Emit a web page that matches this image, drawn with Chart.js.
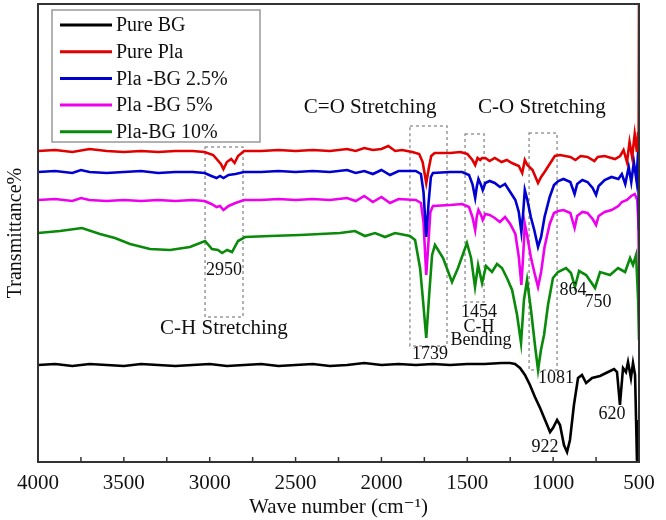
<!DOCTYPE html>
<html>
<head>
<meta charset="utf-8">
<script src="https://cdn.jsdelivr.net/npm/chart.js@4.4.1/dist/chart.umd.min.js"></script>
<style>
  html, body { margin: 0; padding: 0; background: #fff; }
</style>
</head>
<body>
<canvas id="ftir" width="666" height="520"></canvas>
<script>
// wave numbers (cm-1) and transmittance (arbitrary units, offset per curve)
const bgWave = [4000, 3900, 3800, 3700, 3600, 3500, 3400, 3300, 3200, 3100, 3000, 2900, 2800, 2700, 2600, 2500, 2400, 2300, 2200, 2100, 2000, 1900, 1800, 1700, 1600, 1500, 1400, 1300, 1251, 1222, 1193, 1164, 1135, 1106, 1076, 1047, 1018, 1001, 977, 960, 937, 919, 902, 879, 855, 832, 808, 773, 727, 680, 645, 628, 611, 593, 576, 564, 547, 535, 523, 517, 512, 500];
const bgT = [97, 98, 96, 98, 97, 96, 98, 97, 96, 97, 98, 96, 97, 98, 96, 97, 98, 96, 97, 99, 97, 98, 97, 98, 97, 98, 98, 99, 99, 98, 94, 87, 77, 65, 54, 42, 30, 34, 42, 37, 17, 10, 22, 57, 84, 87, 79, 84, 86, 90, 93, 90, 57, 94, 90, 100, 84, 99, 87, 42, 2, 0];

const plaWave = [4000, 3900, 3800, 3700, 3600, 3500, 3400, 3300, 3200, 3100, 3030, 2980, 2935, 2920, 2900, 2875, 2855, 2835, 2800, 2700, 2600, 2500, 2400, 2300, 2200, 2150, 2100, 2050, 2000, 1960, 1920, 1880, 1820, 1780, 1760, 1739, 1725, 1710, 1690, 1600, 1540, 1500, 1470, 1454, 1440, 1425, 1414, 1395, 1370, 1340, 1300, 1270, 1240, 1200, 1180, 1165, 1150, 1120, 1088, 1070, 1050, 1020, 990, 960, 900, 870, 840, 800, 760, 740, 700, 640, 610, 590, 570, 555, 540, 525, 512, 505, 502, 500];
const plaT = [311, 312, 310, 313, 311, 310, 311, 310, 311, 311, 310, 307, 298, 293, 300, 303, 299, 306, 311, 311, 312, 311, 312, 311, 313, 311, 314, 312, 313, 316, 311, 312, 310, 308, 300, 279, 293, 306, 309, 309, 310, 308, 302, 297, 304, 302, 304, 304, 301, 304, 300, 302, 299, 296, 289, 302, 297, 292, 279, 285, 290, 298, 306, 307, 305, 302, 306, 305, 301, 305, 306, 303, 306, 312, 300, 320, 305, 328, 310, 330, 320, 458];

const bg25Wave = [4000, 3900, 3800, 3750, 3700, 3600, 3500, 3400, 3300, 3200, 3100, 3030, 2990, 2960, 2940, 2920, 2890, 2850, 2800, 2700, 2600, 2500, 2400, 2300, 2200, 2150, 2100, 2050, 2000, 1950, 1900, 1800, 1770, 1755, 1739, 1725, 1712, 1700, 1600, 1530, 1490, 1470, 1454, 1445, 1435, 1420, 1410, 1395, 1370, 1340, 1310, 1280, 1250, 1220, 1200, 1185, 1175, 1165, 1150, 1130, 1110, 1088, 1070, 1050, 1020, 995, 970, 940, 900, 875, 860, 830, 800, 770, 750, 735, 700, 660, 620, 600, 580, 560, 545, 530, 515, 505, 502, 500];
const bg25T = [290, 291, 289, 292, 290, 289, 290, 291, 289, 290, 290, 289, 286, 284, 286, 284, 287, 288, 290, 290, 291, 290, 291, 290, 292, 289, 291, 288, 292, 287, 291, 291, 288, 270, 225, 260, 285, 289, 290, 290, 287, 278, 264, 275, 283, 277, 272, 279, 281, 279, 275, 278, 270, 262, 250, 230, 248, 272, 262, 245, 232, 215, 225, 245, 265, 277, 281, 283, 280, 268, 278, 282, 280, 274, 267, 276, 282, 285, 283, 288, 278, 295, 280, 300, 282, 310, 260, 232];

const bg5Wave = [4000, 3900, 3800, 3750, 3700, 3600, 3500, 3400, 3300, 3200, 3100, 3030, 2990, 2960, 2940, 2920, 2890, 2850, 2800, 2700, 2600, 2500, 2400, 2300, 2200, 2150, 2100, 2050, 2000, 1950, 1900, 1800, 1770, 1755, 1739, 1728, 1715, 1700, 1600, 1530, 1490, 1470, 1454, 1445, 1435, 1420, 1410, 1395, 1370, 1340, 1310, 1280, 1250, 1220, 1200, 1185, 1175, 1165, 1150, 1130, 1110, 1088, 1070, 1050, 1020, 995, 970, 940, 900, 875, 860, 830, 800, 770, 750, 735, 700, 660, 620, 600, 570, 545, 525, 510, 504, 500];
const bg5T = [262, 263, 261, 264, 262, 261, 262, 261, 262, 261, 262, 261, 258, 255, 256, 252, 256, 259, 262, 262, 263, 262, 263, 262, 264, 261, 266, 260, 265, 259, 263, 262, 259, 240, 187, 215, 250, 256, 257, 258, 255, 245, 232, 245, 252, 247, 242, 248, 247, 244, 240, 245, 238, 228, 205, 177, 205, 238, 225, 205, 190, 175, 190, 215, 238, 249, 251, 252, 249, 234, 246, 250, 249, 243, 237, 246, 250, 252, 256, 260, 262, 266, 268, 262, 240, 197];

const bg10Wave = [4000, 3872, 3744, 3639, 3552, 3464, 3348, 3231, 3115, 3027, 2987, 2952, 2928, 2899, 2870, 2835, 2794, 2649, 2474, 2241, 2154, 2096, 2037, 1979, 1921, 1834, 1804, 1775, 1758, 1739, 1722, 1705, 1688, 1641, 1589, 1554, 1502, 1478, 1455, 1437, 1414, 1391, 1356, 1327, 1298, 1269, 1239, 1210, 1187, 1170, 1152, 1129, 1106, 1088, 1071, 1053, 1030, 1001, 972, 925, 896, 873, 849, 808, 756, 727, 669, 622, 581, 552, 535, 517, 505, 500];
const bg10T = [229, 231, 234, 228, 224, 218, 213, 212, 215, 221, 213, 212, 209, 212, 210, 221, 225, 226, 227, 229, 231, 226, 229, 225, 229, 226, 222, 194, 162, 124, 167, 207, 217, 204, 180, 194, 219, 204, 175, 197, 179, 196, 190, 198, 194, 184, 172, 147, 119, 162, 182, 152, 117, 92, 112, 127, 157, 184, 190, 194, 189, 175, 191, 187, 174, 190, 187, 194, 190, 204, 197, 207, 162, 122];

const seriesNames = ['Pure BG', 'Pure Pla', 'Pla -BG 2.5%', 'Pla -BG 5%', 'Pla-BG 10%'];
const seriesColors = ['#000000', '#e00000', '#0000d0', '#ee00ee', '#0a8a0a'];
const xTicks = [4000, 3500, 3000, 2500, 2000, 1500, 1000, 500];

// dashed boxes [wave from, wave to, top, bottom]
const boxes = [
  [3027, 2806, 315, 145],
  [1834, 1618, 336, 116],
  [1513, 1402, 328, 160],
  [1140, 977, 329, 92]
];
// labels [text, wave, level, size]
const labels = [
  ['C=O Stretching', 2066, 355, 21],
  ['C-O Stretching', 1065, 355, 21],
  ['C-H Stretching', 2917, 134, 21],
  ['2950', 2917, 192, 18],
  ['1454', 1432, 150, 18],
  ['C-H', 1432, 135, 18],
  ['Bending', 1420, 122, 18],
  ['1739', 1717, 108, 18],
  ['1081', 983, 84, 18],
  ['864', 884, 172, 18],
  ['750', 739, 160, 18],
  ['922', 1047, 15, 18],
  ['620', 657, 48, 18]
];

const SERIF = '"Liberation Serif", "DejaVu Serif", serif';

function pairs(wave, vals) {
  return wave.map((w, i) => ({ x: w, y: vals[i] }));
}

const allData = [
  pairs(bgWave, bgT),
  pairs(plaWave, plaT),
  pairs(bg25Wave, bg25T),
  pairs(bg5Wave, bg5T),
  pairs(bg10Wave, bg10T)
];

const datasets = allData.map((d, i) => ({
  label: seriesNames[i],
  data: d,
  borderColor: seriesColors[i],
  backgroundColor: seriesColors[i],
  borderWidth: 2.6,
  pointRadius: 0,
  tension: 0,
  fill: false
}));

const decorations = {
  id: 'decorations',
  beforeDatasetsDraw(chart) {
    const { ctx } = chart;
    const xs = chart.scales.x, ys = chart.scales.y;
    ctx.save();
    ctx.strokeStyle = '#999';
    ctx.lineWidth = 1.5;
    ctx.setLineDash([3, 3]);
    boxes.forEach(b => {
      const x1 = xs.getPixelForValue(b[0]), x2 = xs.getPixelForValue(b[1]);
      const y1 = ys.getPixelForValue(b[2]), y2 = ys.getPixelForValue(b[3]);
      ctx.strokeRect(x1, y1, x2 - x1, y2 - y1);
    });
    ctx.restore();
  },
  afterDatasetsDraw(chart) {
    const { ctx, chartArea } = chart;
    const xs = chart.scales.x, ys = chart.scales.y;
    ctx.save();

    // frame
    ctx.strokeStyle = '#333';
    ctx.lineWidth = 2;
    ctx.strokeRect(chartArea.left, chartArea.top, chartArea.right - chartArea.left, chartArea.bottom - chartArea.top);

    // inward ticks every 250
    ctx.lineWidth = 1.5;
    for (let w = 500; w <= 4000; w += 250) {
      const px = xs.getPixelForValue(w);
      ctx.beginPath();
      ctx.moveTo(px, chartArea.bottom);
      ctx.lineTo(px, chartArea.bottom - 5);
      ctx.stroke();
    }

    // text labels
    ctx.fillStyle = '#111';
    ctx.textAlign = 'center';
    ctx.textBaseline = 'middle';
    labels.forEach(l => {
      ctx.font = l[3] + 'px ' + SERIF;
      ctx.fillText(l[0], xs.getPixelForValue(l[1]), ys.getPixelForValue(l[2]));
    });

    // legend box
    const lx = 52, ly = 10, lw = 208, lh = 132;
    ctx.fillStyle = '#fff';
    ctx.fillRect(lx, ly, lw, lh);
    ctx.strokeStyle = '#999';
    ctx.lineWidth = 1.5;
    ctx.strokeRect(lx, ly, lw, lh);
    ctx.font = '20px ' + SERIF;
    ctx.textAlign = 'left';
    chart.data.datasets.forEach((ds, i) => {
      const cy = ly + 15 + i * 26.7;
      ctx.strokeStyle = ds.borderColor;
      ctx.lineWidth = 3;
      ctx.beginPath();
      ctx.moveTo(lx + 8, cy);
      ctx.lineTo(lx + 60, cy);
      ctx.stroke();
      ctx.fillStyle = '#111';
      ctx.fillText(ds.label, lx + 64, cy + 1);
    });
    ctx.restore();
  }
};

new Chart(document.getElementById('ftir'), {
  type: 'line',
  data: { datasets: datasets },
  options: {
    responsive: false,
    animation: false,
    layout: { padding: { top: 4, right: 27, bottom: 0, left: 0 } },
    plugins: {
      legend: { display: false },
      tooltip: { enabled: false }
    },
    scales: {
      x: {
        type: 'linear',
        reverse: true,
        min: 500,
        max: 4000,
        afterBuildTicks: (scale) => { scale.ticks = xTicks.map(v => ({ value: v })); },
        afterFit: (scale) => { scale.height = 58; },
        grid: { display: false, drawTicks: false },
        border: { display: false },
        ticks: {
          callback: (v) => String(v),
          color: '#111',
          padding: 9,
          maxRotation: 0,
          autoSkip: false,
          font: { family: SERIF, size: 21 }
        },
        title: {
          display: true,
          text: 'Wave number (cm\u207B\u00B9)',
          color: '#111',
          padding: { top: 0, bottom: 0 },
          font: { family: SERIF, size: 21 }
        }
      },
      y: {
        min: 0,
        max: 458,
        afterFit: (scale) => { scale.width = 38; },
        grid: { display: false },
        border: { display: false },
        ticks: { display: false },
        title: {
          display: true,
          text: 'Transmittance%',
          color: '#111',
          padding: { top: 4, bottom: 0 },
          font: { family: SERIF, size: 20 }
        }
      }
    }
  },
  plugins: [decorations]
});
</script>
</body>
</html>
